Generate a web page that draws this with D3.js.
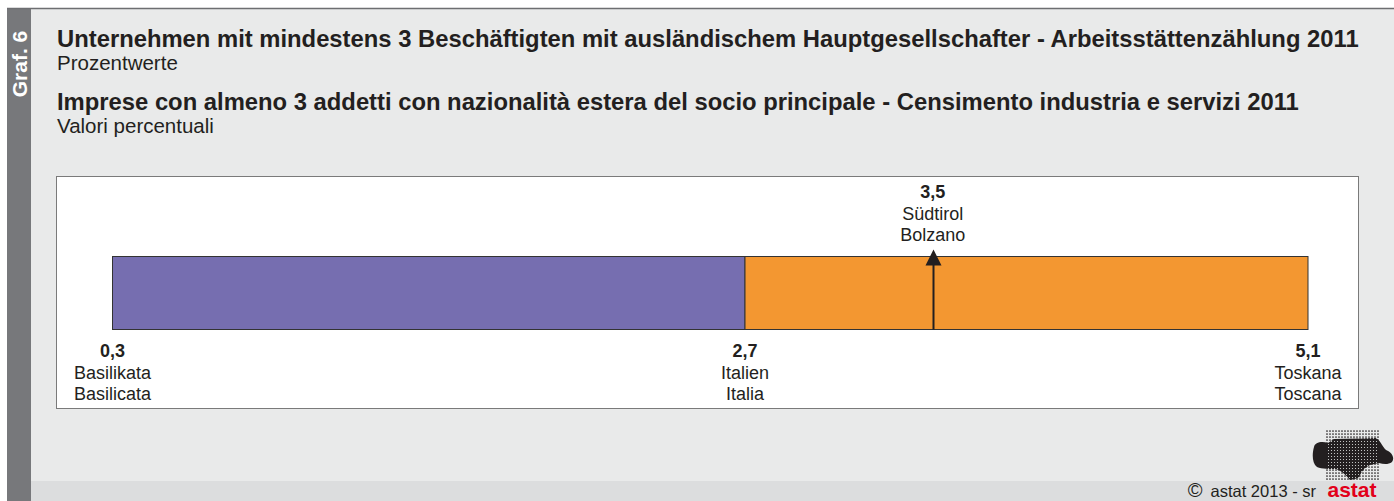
<!DOCTYPE html>
<html>
<head>
<meta charset="utf-8">
<script src="https://cdn.jsdelivr.net/npm/d3@7"></script>
<style>
  html, body { margin: 0; padding: 0; background: #ffffff; }
  svg { display: block; font-family: "Liberation Sans", Arial, Helvetica, sans-serif; }
</style>
</head>
<body>
<div id="chart"></div>
<script>
"use strict";

// Data
const regionsDe = ["Basilikata", "Italien", "Südtirol", "Toskana"];
const regionsIt = ["Basilicata", "Italia", "Bolzano", "Toscana"];
const values = [0.3, 2.7, 3.5, 5.1];
const valueLabels = ["0,3", "2,7", "3,5", "5,1"];

const titleDe = "Unternehmen mit mindestens 3 Beschäftigten mit ausländischem Hauptgesellschafter - Arbeitsstättenzählung 2011";
const subtitleDe = "Prozentwerte";
const titleIt = "Imprese con almeno 3 addetti con nazionalità estera del socio principale - Censimento industria e servizi 2011";
const subtitleIt = "Valori percentuali";

const width = 1394;
const height = 501;

const svg = d3.select("#chart")
  .append("svg")
  .attr("width", width)
  .attr("height", height);

// background panels
svg.append("rect").attr("x", 7).attr("y", 8).attr("width", width - 7).attr("height", height - 8).attr("fill", "#e9eaea");
svg.append("rect").attr("x", 31).attr("y", 481).attr("width", width - 31).attr("height", 20).attr("fill", "#dcddde");
svg.append("rect").attr("x", 7).attr("y", 8).attr("width", 24).attr("height", height - 8).attr("fill", "#77787b");
svg.append("line").attr("x1", 7).attr("x2", width).attr("y1", 8.5).attr("y2", 8.5)
  .attr("stroke", "#6d6e71").attr("stroke-width", 1.5);

svg.append("text")
  .attr("transform", "translate(27,64) rotate(-90)")
  .attr("text-anchor", "middle")
  .attr("fill", "#ffffff")
  .style("font-weight", "bold")
  .style("font-size", "21px")
  .text("Graf. 6");

// titles
const titles = [
  { text: titleDe, y: 47, bold: true },
  { text: subtitleDe, y: 70, bold: false },
  { text: titleIt, y: 110, bold: true },
  { text: subtitleIt, y: 133, bold: false }
];
svg.selectAll("text.title")
  .data(titles)
  .join("text")
  .attr("class", "title")
  .attr("x", 57)
  .attr("y", d => d.y)
  .attr("fill", "#231f20")
  .style("font-weight", d => d.bold ? "bold" : "normal")
  .style("font-size", d => d.bold ? "23.8px" : "20.5px")
  .text(d => d.text);

// plot frame
svg.append("rect")
  .attr("x", 56.5).attr("y", 176.5)
  .attr("width", 1302).attr("height", 232)
  .attr("fill", "#ffffff")
  .attr("stroke", "#7a7a7a")
  .attr("stroke-width", 1);

// piecewise scale: min -> Italy -> max
const iMin = d3.minIndex(values);
const iMax = d3.maxIndex(values);
const iItaly = regionsDe.indexOf("Italien");
const iSt = regionsDe.indexOf("Südtirol");

const x = d3.scaleLinear()
  .domain([values[iMin], values[iItaly], values[iMax]])
  .range([112.5, 745, 1308]);

const barTop = 256.5;
const barH = 73;

const segments = [
  { from: values[iMin], to: values[iItaly], color: "#766eb0" },
  { from: values[iItaly], to: values[iMax], color: "#f39731" }
];

svg.selectAll("rect.seg")
  .data(segments)
  .join("rect")
  .attr("class", "seg")
  .attr("x", d => x(d.from))
  .attr("y", barTop)
  .attr("width", d => x(d.to) - x(d.from))
  .attr("height", barH)
  .attr("fill", d => d.color)
  .attr("stroke", "#333333")
  .attr("stroke-width", 1);

// arrow for Südtirol
const ax = Math.round(x(values[iSt])) + 0.5;
svg.append("line")
  .attr("x1", ax).attr("x2", ax)
  .attr("y1", barTop + barH).attr("y2", barTop + 6)
  .attr("stroke", "#231f20")
  .attr("stroke-width", 2);
svg.append("path")
  .attr("d", `M${ax},${barTop - 7} L${ax - 8},${barTop + 9} L${ax + 8},${barTop + 9} Z`)
  .attr("fill", "#231f20");

// labels
const labelData = [iMin, iItaly, iMax, iSt].map(i => ({
  x: x(values[i]),
  top: i === iSt,
  lines: [valueLabels[i], regionsDe[i], regionsIt[i]]
}));

const labelG = svg.selectAll("g.lab")
  .data(labelData)
  .join("g")
  .attr("class", "lab")
  .attr("transform", d => `translate(${d.x},${d.top ? 198 : 357})`);

labelG.selectAll("text")
  .data(d => d.lines)
  .join("text")
  .attr("text-anchor", "middle")
  .attr("y", (d, i) => i * 21.5)
  .attr("fill", "#231f20")
  .style("font-size", "18px")
  .style("font-weight", (d, i) => i === 0 ? "bold" : "normal")
  .text(d => d);

// footer
const foot = svg.append("text")
  .attr("x", 1316).attr("y", 497)
  .attr("text-anchor", "end")
  .attr("fill", "#231f20")
  .style("font-size", "16.5px");
foot.append("tspan").style("font-size", "20px").text("©");
foot.append("tspan").attr("dx", 8).text("astat 2013 - sr");

// logo: dotted map with black blob
const blobPath = "M14,22 C15,17 22,16 28,18 L34,14 L76,13 C80,15 82,21 86,25 C92,27 95,33 92,37 C88,40 83,39 79,38 L70,40 C64,43 61,47 59,53 L50,55 C46,50 42,46 36,44 C30,44 22,44 17,42 C12,38 12,29 14,22 Z";
const logo = svg.append("g").attr("transform", "translate(1300,425)");
logo.append("clipPath").attr("id", "blobClip").append("path").attr("d", blobPath);
logo.append("path").attr("d", blobPath).attr("fill", "#231f20");
d3.range(17).forEach(r => {
  d3.range(18).forEach(c => {
    logo.append("circle")
      .attr("cx", 27 + c * 3)
      .attr("cy", 6 + r * 3)
      .attr("r", 0.85)
      .attr("fill", "#231f20");
  });
});
// speckles inside blob where the dot grid lies
const speckle = logo.append("g").attr("clip-path", "url(#blobClip)");
d3.range(16).forEach(r => {
  d3.range(17).forEach(c => {
    speckle.append("rect")
      .attr("x", 28 + c * 3)
      .attr("y", 7 + r * 3)
      .attr("width", 0.9)
      .attr("height", 0.9)
      .attr("fill", "#e9eaea");
  });
});
svg.append("text")
  .attr("x", 1352).attr("y", 497)
  .attr("text-anchor", "middle")
  .attr("fill", "#e2001a")
  .style("font-size", "21px")
  .style("font-weight", "bold")
  .text("astat");
</script>
</body>
</html>
